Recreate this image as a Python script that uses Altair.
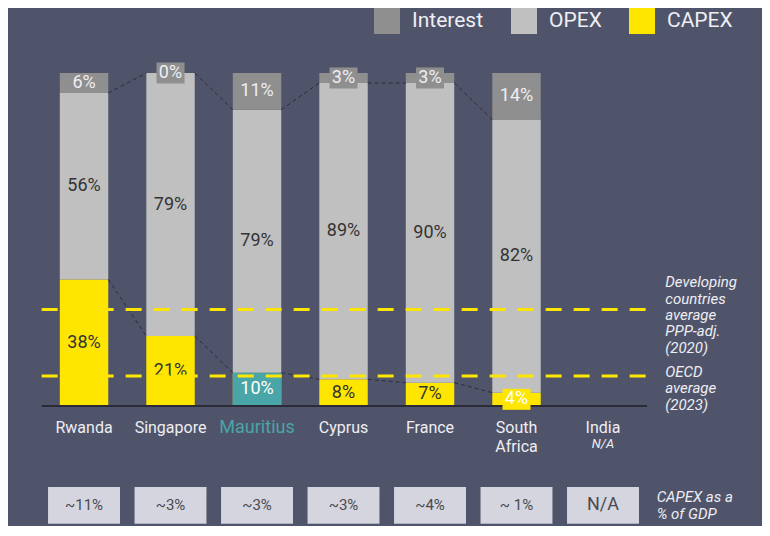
import altair as alt
import pandas as pd

# ---------------- data ----------------
countries = ["Rwanda", "Singapore", "Mauritius", "Cyprus", "France", "South Africa", "India"]
capex = [38, 21, 10, 8, 7, 4]          # India: N/A
opex = [56, 79, 79, 89, 90, 82]
interest = [6, 0, 11, 3, 3, 14]
gdp_share = ["~11%", "~3%", "~3%", "~3%", "~4%", "~ 1%", "N/A"]
ref_values = [29, 9]
ref_labels = [["Developing", "countries", "average", "PPP-adj.", "(2020)"],
              ["OECD", "average", "(2023)"]]

series = ["Interest", "OPEX", "CAPEX"]
colors = ["#8f8f8f", "#c0c0c0", "#ffe600"]
HIGHLIGHT = "Mauritius"
TEAL = "#49a5a8"
YELLOW = "#ffe600"
BG = "#50546a"
FONT = "Roboto"
LIGHT = "#eeeef3"
DARK = "#333333"

# ---------------- layout ----------------
W, H = 754, 518
xs = alt.Scale(domain=[-0.879, 7.838], nice=False, zero=False)
ys = alt.Scale(domain=[-36.04, 119.52], nice=False, zero=False)
HALF = 0.28
LINE_X0, LINE_X1 = -0.49, len(countries) - 1 + 0.51
GDP_TOP, GDP_BOT = -24.3, -35.4
BOX_HALF = 0.416

# ---------------- tables ----------------
rows = []
for i in range(len(capex)):
    c = countries[i]
    segs = [("CAPEX", 0, capex[i]),
            ("OPEX", capex[i], capex[i] + opex[i]),
            ("Interest", capex[i] + opex[i], capex[i] + opex[i] + interest[i])]
    for s, a, b in segs:
        v = b - a
        boxed = (s != "OPEX") and v < 5
        if s == "Interest":
            tc = LIGHT
            bc = colors[0]
        elif s == "OPEX":
            tc = DARK
            bc = colors[1]
        else:
            tc = "#ffffff" if (boxed or c == HIGHLIGHT) else DARK
            bc = YELLOW
        rows.append(dict(idx=i, country=c, series=s, y0=a, y1=b, mid=(a + b) / 2,
                         x0=i - HALF, x1=i + HALF, label=f"{v}%", tc=tc, bc=bc,
                         boxed=boxed, hl=(c == HIGHLIGHT and s == "CAPEX")))
bars = pd.DataFrame(rows)

conn = []
for i in range(len(capex) - 1):
    for lvl, tops in (("c", [capex[i], capex[i + 1]]),
                      ("o", [capex[i] + opex[i], capex[i + 1] + opex[i + 1]])):
        conn.append(dict(seg=f"{lvl}{i}", x=i + HALF, y=tops[0], o=0))
        conn.append(dict(seg=f"{lvl}{i}", x=i + 1 - HALF, y=tops[1], o=1))
conn = pd.DataFrame(conn)

refs = pd.DataFrame(dict(y=ref_values, x0=LINE_X0, x1=LINE_X1, txt=ref_labels,
                         tx=len(countries) - 1 + 0.72, dy=[-22, 1]))
base = pd.DataFrame(dict(y=[0], x0=[LINE_X0], x1=[LINE_X1]))

cl = []
for i, c in enumerate(countries):
    cl.append(dict(idx=i, txt=c.split(" "),
                   tc=TEAL if c == HIGHLIGHT else LIGHT,
                   fs=18 if c == HIGHLIGHT else 16, y=0))
clabels = pd.DataFrame(cl)
na = pd.DataFrame(dict(idx=[len(countries) - 1], y=[0], txt=["N/A"]))

gdp = pd.DataFrame(dict(idx=list(range(len(countries))), txt=gdp_share,
                        x0=[i - BOX_HALF for i in range(len(countries))],
                        x1=[i + BOX_HALF for i in range(len(countries))],
                        y0=GDP_TOP, y1=GDP_BOT, ym=(GDP_TOP + GDP_BOT) / 2,
                        fs=[18 if t == "N/A" else 15 for t in gdp_share]))
gdp_note = pd.DataFrame(dict(x=[len(countries) - 1 + 0.62], y=[(GDP_TOP + GDP_BOT) / 2],
                             txt=[["CAPEX as a", "% of GDP"]]))

# ---------------- layers ----------------
X = lambda f: alt.X(f, scale=xs, axis=None)
Y = lambda f: alt.Y(f, scale=ys, axis=None)

bar_layer = alt.Chart(bars).mark_rect().encode(
    x=X("x0:Q"), x2="x1:Q", y=Y("y0:Q"), y2="y1:Q",
    color=alt.Color("series:N", scale=alt.Scale(domain=series, range=colors),
                    legend=alt.Legend(orient="none", legendX=366, legendY=0,
                                      direction="horizontal", title=None,
                                      symbolType="square", symbolSize=676,
                                      symbolStrokeWidth=0, symbolOpacity=1,
                                      labelFontSize=21, labelFont=FONT,
                                      labelColor=LIGHT, columnPadding=27,
                                      labelOffset=12, padding=0)),
)
teal_layer = alt.Chart(bars).transform_filter("datum.hl").mark_rect(color=TEAL).encode(
    x=X("x0:Q"), x2="x1:Q", y=Y("y0:Q"), y2="y1:Q")

conn_layer = alt.Chart(conn).mark_line(color="#2b2d3b", strokeWidth=1,
                                       strokeDash=[4, 3]).encode(
    x=X("x:Q"), y=Y("y:Q"), detail="seg:N", order="o:Q")

base_layer = alt.Chart(base).mark_rule(color="#2a2b36", strokeWidth=2).encode(
    x=X("x0:Q"), x2="x1:Q", y=Y("y:Q"))

box_layer = alt.Chart(bars).transform_filter("datum.boxed").mark_point(
    shape="M-1,-0.75L1,-0.75L1,0.75L-1,0.75Z", filled=True, size=784,
    opacity=1, strokeWidth=0).encode(
    x=X("idx:Q"), y=Y("mid:Q"), color=alt.Color("bc:N", scale=None))

lab_layer = alt.Chart(bars).mark_text(font=FONT, fontSize=18, baseline="middle",
                                      align="center").encode(
    x=X("idx:Q"), y=Y("mid:Q"), text="label:N", color=alt.Color("tc:N", scale=None))

ref_layer = alt.Chart(refs).mark_rule(color=YELLOW, strokeWidth=3,
                                      strokeDash=[16, 12]).encode(
    x=X("x0:Q"), x2="x1:Q", y=Y("y:Q"))
ref_txt = alt.layer(*[
    alt.Chart(refs.iloc[[k]]).mark_text(font=FONT, fontSize=15, fontStyle="italic",
                                        align="left", baseline="alphabetic",
                                        lineHeight=16.3, color=LIGHT,
                                        dy=float(refs.dy.iloc[k])).encode(
        x=X("tx:Q"), y=Y("y:Q"), text="txt")
    for k in range(len(refs))])

cl_layer = alt.Chart(clabels).mark_text(font=FONT, align="center", baseline="alphabetic",
                                        dy=27, lineHeight=19).encode(
    x=X("idx:Q"), y=Y("y:Q"), text="txt", color=alt.Color("tc:N", scale=None),
    size=alt.Size("fs:Q", scale=None))
na_layer = alt.Chart(na).mark_text(font=FONT, fontSize=13, fontStyle="italic",
                                   align="center", baseline="alphabetic", dy=42,
                                   color=LIGHT).encode(
    x=X("idx:Q"), y=Y("y:Q"), text="txt:N")

shadow = alt.Chart(gdp).mark_rect(color="#33364a", opacity=0.7, xOffset=3,
                                  yOffset=3).encode(
    x=X("x0:Q"), x2="x1:Q", y=Y("y0:Q"), y2="y1:Q")
gbox = alt.Chart(gdp).mark_rect(color="#d4d5de").encode(
    x=X("x0:Q"), x2="x1:Q", y=Y("y0:Q"), y2="y1:Q")
gtxt = alt.Chart(gdp).mark_text(font=FONT, color="#4a4a50", baseline="middle",
                                align="center").encode(
    x=X("idx:Q"), y=Y("ym:Q"), text="txt:N", size=alt.Size("fs:Q", scale=None))
gnote = alt.Chart(gdp_note).mark_text(font=FONT, fontSize=15, fontStyle="italic",
                                      align="left", baseline="alphabetic", dy=-3,
                                      lineHeight=17, color=LIGHT).encode(
    x=X("x:Q"), y=Y("y:Q"), text="txt")

chart = alt.layer(
    bar_layer, teal_layer, conn_layer, base_layer, box_layer, lab_layer,
    ref_layer, ref_txt, cl_layer, na_layer, shadow, gbox, gtxt, gnote
).resolve_scale(color="independent", size="independent").properties(
    width=W, height=H, padding=0, autosize="none"
).configure(background=BG).configure_view(stroke=None)

chart.save("out.html", embed_options={"renderer": "svg", "actions": False})
